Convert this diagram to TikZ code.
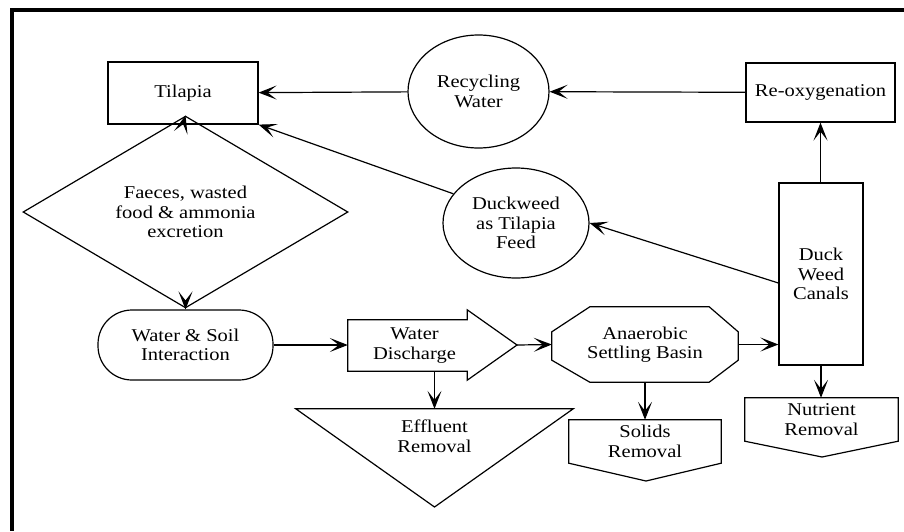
\documentclass[tikz,border=0pt]{standalone}
\usepackage{fontspec}
\setmainfont{Liberation Serif}[FakeStretch=1.14]
\usetikzlibrary{arrows.meta,shapes.geometric,calc}
\begin{document}
\begin{tikzpicture}[x=1pt,y=-1pt,
  >={Stealth[length=18pt,width=14pt,inset=9pt]},
  every node/.style={font=\fontsize{18}{19.5}\selectfont, align=center, inner sep=0pt},
  ln/.style={line width=1.2pt},
  arr/.style={ln, ->},
  box/.style={draw, ln, rectangle},
  ell/.style={draw, ln, ellipse}]
\useasboundingbox (0,0) rectangle (904,531);
\fill[white] (0,0) rectangle (904,531);
% frame
\draw[line width=4.5pt] (904,10) -- (12,10) -- (12,531);

% nodes
\node[box, minimum width=150, minimum height=62] (til) at (183,93) {Tilapia};
\node[ell, minimum width=141, minimum height=113] (rw) at (478.5,91.5) {Recycling\\Water};
\node[box, minimum width=149, minimum height=59] (reox) at (820.5,92.5) {Re-oxygenation};
\node[ell, minimum width=146, minimum height=110] (dtf) at (516,223) {Duckweed\\as Tilapia\\Feed};
\node[box, minimum width=84, minimum height=182] (dwc) at (821,274) {Duck\\Weed\\Canals};
\node[draw, ln, diamond, minimum width=325, minimum height=136] (fae) at (185.5,212) {Faeces, wasted\\food \& ammonia\\excretion};
\node[draw, ln, rectangle, rounded corners=34pt, minimum width=175, minimum height=70] (wsi) at (185.5,345) {Water \& Soil\\Interaction};

% water discharge (block arrow)
\node[minimum width=119, minimum height=51] (wd) at (407.5,345.5) {\hspace*{14pt}Water\\\hspace*{14pt}Discharge};
\coordinate (wdtip) at (517,345);
\draw[ln] (wd.south west) -- (wd.north west) -- (wd.north east) -- ++(0,-10) -- (wdtip)
  -- ($(wd.south east)+(0,9)$) -- (wd.south east) -- cycle;

% effluent removal (inverted triangle)
\node[minimum width=277, minimum height=54] (eff) at (434.5,436) {Effluent\\Removal};
\draw[ln] (eff.north west) -- (eff.north east) -- (434.5,507) -- cycle;

% anaerobic settling basin (octagon)
\node[minimum width=186, minimum height=75] (asb) at (645,344.5) {Anaerobic\\Settling Basin};
\draw[ln] ($(asb.north west)+(38,0)$) -- ($(asb.north east)+(-29,0)$) -- ($(asb.north east)+(0,25)$)
  -- ($(asb.south east)+(0,-22)$) -- ($(asb.south east)+(-29,0)$) -- ($(asb.south west)+(38,0)$)
  -- ($(asb.south west)+(0,-22)$) -- ($(asb.north west)+(0,25)$) -- cycle;

% solids removal
\node[minimum width=152, minimum height=43] (sol) at (645,441.5) {Solids\\Removal};
\draw[ln] (sol.south west) -- (sol.north west) -- (sol.north east) -- (sol.south east) -- (646,481) -- cycle;

% nutrient removal
\node[minimum width=153, minimum height=43] (nut) at (821.5,419.5) {Nutrient\\Removal};
\draw[ln] (nut.south west) -- (nut.north west) -- (nut.north east) -- (nut.south east) -- (822,457) -- cycle;

% connectors
\draw[arr] (rw) -- (til);
\draw[arr] (reox) -- (rw);
\draw[arr] (dwc.north -| reox.south) -- (reox.south);
\draw[arr] ([yshift=-9pt]dwc.west) -- (dtf.east);
\draw[arr] (dtf.155) -- (til.south east);
\draw[arr] (til.south) -- (fae.north);
\draw[arr] (fae.south) -- (wsi.north);
\draw[arr] (wsi.east) -- (wd.west |- wsi.east);
\draw[arr] (wdtip) -- (asb.west);
\draw[arr] (asb.east) -- (dwc.west |- asb.east);
\draw[arr] (eff.north |- wd.south) -- (eff.north);
\draw[arr] (asb.south) -- (sol.north);
\draw[arr] (dwc.south) -- (dwc.south |- nut.north);
\end{tikzpicture}
\end{document}
